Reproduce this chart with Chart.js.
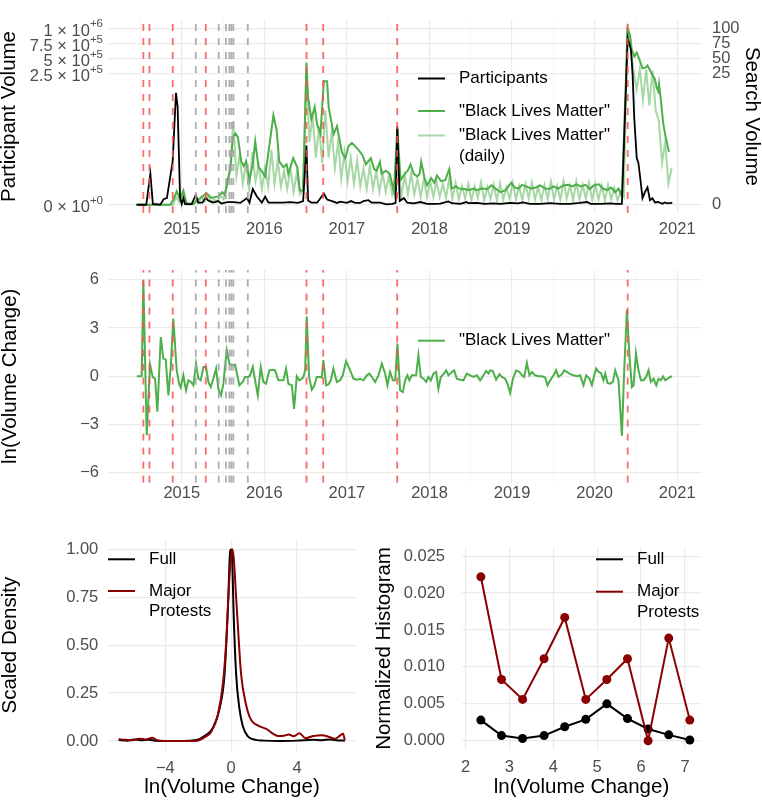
<!DOCTYPE html>
<html>
<head>
<meta charset="UTF-8">
<title>Black Lives Matter: participants and search volume</title>
<script src="https://cdn.jsdelivr.net/npm/chart.js"></script>
<style>
  body { margin: 0; background: #fff; width: 762px; height: 803px; position: relative; overflow: hidden; }
  canvas { position: absolute; }
</style>
</head>
<body>
<canvas id="topChart" width="762" height="245" style="left:0px;top:0px"></canvas>
<canvas id="midChart" width="762" height="265" style="left:0px;top:245px"></canvas>
<canvas id="densChart" width="370" height="283" style="left:0px;top:520px"></canvas>
<canvas id="histChart" width="392" height="283" style="left:370px;top:520px"></canvas>
<script>
// ---- data ----
const yearGrid = [2014.5, 2015, 2015.5, 2016, 2016.5, 2017, 2017.5, 2018, 2018.5, 2019, 2019.5, 2020, 2020.5, 2021];
const partTicks = [0, 250000, 500000, 750000, 1000000];
const partTickLabels = [['0', '+0'], ['2.5', '+5'], ['5', '+5'], ['7.5', '+5'], ['1', '+6']];
const searchTicks = [0, 25, 50, 75, 100];
const changeTicks = [-6, -3, 0, 3, 6];
const densXTicks = [-4, 0, 4];
const densYTicks = [0, 0.25, 0.5, 0.75, 1];
const histXTicks = [2, 3, 4, 5, 6, 7];
const histYTicks = [0, 0.005, 0.01, 0.015, 0.02, 0.025];

// dashed event lines
const majorProtests = [2014.535, 2014.609, 2014.891, 2015.291, 2016.511, 2016.713, 2017.609, 2020.40];
const otherEvents = [2015.17, 2015.448, 2015.535, 2015.577, 2015.601, 2015.625, 2015.80];

// participants (black)
const partYears = [2014.45, 2014.57, 2014.62, 2014.65, 2014.74, 2014.78, 2014.82, 2014.89, 2014.93, 2014.95, 2014.98,
  2015.00, 2015.02, 2015.04, 2015.12, 2015.17, 2015.20, 2015.25, 2015.29, 2015.32, 2015.38, 2015.44, 2015.48, 2015.55,
  2015.63, 2015.71, 2015.79, 2015.82, 2015.86, 2015.91, 2015.97, 2016.01, 2016.05, 2016.15, 2016.23, 2016.31, 2016.41,
  2016.47, 2016.51, 2016.53, 2016.57, 2016.64, 2016.72, 2016.76, 2016.82, 2016.88, 2016.92, 2017.00, 2017.05, 2017.10,
  2017.16, 2017.20, 2017.26, 2017.30, 2017.40, 2017.48, 2017.55, 2017.59, 2017.61, 2017.64, 2017.69, 2017.73, 2017.81,
  2017.89, 2017.97, 2018.05, 2018.13, 2018.23, 2018.27, 2018.37, 2018.45, 2018.47, 2018.57, 2018.67, 2018.77, 2018.86,
  2018.98, 2019.07, 2019.13, 2019.22, 2019.34, 2019.46, 2019.58, 2019.70, 2019.82, 2019.91, 2019.95, 2020.07, 2020.19,
  2020.26, 2020.33, 2020.40, 2020.44, 2020.46, 2020.48, 2020.51, 2020.53, 2020.55, 2020.58, 2020.61, 2020.64, 2020.67,
  2020.70, 2020.73, 2020.77, 2020.82, 2020.85, 2020.88, 2020.94];
const partValues = [0, 0, 59400, 1700, 0, 10500, 12800, 82700, 213800, 187600, 12800,
  1200, 12800, 1200, 1200, 18700, 4000, 4000, 14000, 8200, 4000, 7000, 2300, 5200,
  5200, 3500, 12800, 4000, 30200, 15700, 4000, 15700, 4000, 4000, 4000, 5200, 3500,
  7000, 113100, 8200, 4000, 4000, 21500, 10000, 7000, 3500, 5800, 3500, 7000, 3500,
  3500, 7000, 8700, 4000, 4000, 900, 1700, 3500, 149800, 7000, 12800, 4000, 2600,
  5200, 1700, 1700, 2300, 6500, 3000, 1700, 5200, 3000, 3500, 1700, 2600, 1700,
  3500, 2600, 4400, 1700, 1700, 3000, 1700, 1700, 3500, 5200, 1700, 1700, 2600,
  1700, 1700, 841000, 644000, 248000, 164000, 89000, 80000, 54000, 12800, 24500, 33200, 8700,
  12200, 4400, 5200, 1700, 4400, 2600, 3500];

// "Black Lives Matter" search volume (dark green)
const blmYears = [2014.47, 2014.86, 2014.90, 2014.94, 2014.98, 2015.02, 2015.06, 2015.14, 2015.20, 2015.26, 2015.30,
  2015.36, 2015.44, 2015.49, 2015.52, 2015.59, 2015.62, 2015.65, 2015.68, 2015.72, 2015.75, 2015.78, 2015.82, 2015.86,
  2015.89, 2015.93, 2015.96, 2016.01, 2016.05, 2016.11, 2016.15, 2016.18, 2016.23, 2016.27, 2016.29, 2016.32, 2016.35,
  2016.40, 2016.43, 2016.47, 2016.51, 2016.53, 2016.57, 2016.61, 2016.64, 2016.68, 2016.72, 2016.76, 2016.78, 2016.84,
  2016.88, 2016.94, 2016.98, 2017.02, 2017.06, 2017.10, 2017.15, 2017.19, 2017.23, 2017.29, 2017.33, 2017.36, 2017.40,
  2017.42, 2017.47, 2017.52, 2017.57, 2017.61, 2017.65, 2017.70, 2017.74, 2017.77, 2017.81, 2017.85, 2017.88, 2017.90,
  2017.94, 2017.97, 2018.02, 2018.06, 2018.09, 2018.14, 2018.19, 2018.24, 2018.27, 2018.32, 2018.36, 2018.42, 2018.48,
  2018.53, 2018.58, 2018.63, 2018.70, 2018.75, 2018.80, 2018.86, 2018.92, 2018.99, 2019.03, 2019.08, 2019.12, 2019.17,
  2019.23, 2019.29, 2019.34, 2019.40, 2019.45, 2019.50, 2019.56, 2019.62, 2019.68, 2019.73, 2019.78, 2019.83, 2019.89,
  2019.94, 2019.99, 2020.05, 2020.10, 2020.15, 2020.20, 2020.25, 2020.29, 2020.33, 2020.40, 2020.43, 2020.45, 2020.48,
  2020.51, 2020.54, 2020.58, 2020.62, 2020.64, 2020.67, 2020.70, 2020.73, 2020.75, 2020.77, 2020.78, 2020.80, 2020.83,
  2020.86, 2020.90];
const blmValues = [0, 0, 1.0, 2.6, 1.0, 2.7, 0.1, 0.1, 1.0, 1.7, 2.2,
  1.3, 1.6, 2.4, 1.9, 7.1, 12.9, 13.6, 12.9, 8.3, 7.4, 8.3, 4.8, 7.7,
  12.1, 7.2, 6.6, 5.4, 10.0, 17.1, 14.2, 8.3, 7.2, 7.7, 5.9, 7.4, 8.9,
  7.1, 2.7, 2.7, 43.2, 20.5, 16.4, 18.7, 15.3, 13.5, 23.6, 23.6, 18.5, 13.5,
  15.0, 10.0, 8.9, 11.2, 11.8, 11.2, 10.3, 9.4, 7.7, 8.9, 6.8, 6.5, 8.2,
  5.9, 6.5, 5.9, 2.4, 14.7, 4.7, 5.9, 6.6, 7.7, 5.9, 5.4, 5.9, 8.2,
  5.1, 3.7, 5.1, 4.2, 5.6, 4.5, 4.7, 6.8, 3.1, 3.5, 3.1, 3.0, 2.8,
  3.1, 2.8, 3.1, 3.0, 3.7, 3.1, 2.4, 2.8, 4.2, 3.3, 3.1, 3.8, 3.5,
  3.1, 3.3, 3.7, 3.1, 3.0, 3.5, 3.1, 3.7, 3.8, 3.5, 3.9, 3.5, 3.8,
  3.0, 3.7, 3.9, 3.1, 2.8, 3.3, 2.4, 3.1, 1.6, 100, 87, 64.4, 53.8,
  59.8, 49.2, 34.1, 35.6, 38.6, 31.1, 24.8, 24.0, 22.4, 21.7, 23.1, 20.3, 15.6,
  12.9, 10.1];

// "Black Lives Matter" daily search volume (pale green), one value every 1/26 year
const dailyStart = 2014.47;
const dailyStep = 1 / 26;
const dailyValues = [0, 0, 0, 0, 0, 0, 0, 0, 0, 0, 0, 0,
  1.5, 0.5, 2.0, 0.5, 0.3, 0.2, 0.8, 0.3, 1.5, 0.6, 1.8, 0.5, 1.0, 0.6, 1.8, 1.0,
  3.5, 6.5, 16, 5.5, 9.5, 4, 8, 3, 10, 4.5, 7.5, 3, 7, 3.5, 10.5, 4, 8.5, 3.5, 6.5, 3, 7, 2.5, 6, 2, 3,
  30, 12, 17, 9, 15, 8, 18, 9, 14, 7, 12, 5, 10, 4.5, 9, 4, 8.5, 3.5, 7, 3, 7.5, 3, 6.5, 2.5, 6, 2.5,
  5.5, 2, 5, 6, 2, 5.5, 2, 6, 2, 5, 1.5, 5, 1.5, 4.5, 1.5, 4.5, 1.5, 4, 1.3, 5, 1.2,
  4.2, 1, 3.6, 1.2, 4, 0.9, 3.5, 1.3, 4.3, 0.8, 3.4, 1.1, 3.8, 0.8, 4.1, 1, 3.3, 1.2,
  4.2, 1, 3.5, 0.9, 3.9, 1.2, 4.3, 1, 3.4, 0.9, 3.8, 1.1, 4.4, 1, 3.6, 0.9, 4.5, 1.2,
  3.7, 0.9, 4.4, 1, 3.8, 1.2, 4.2, 0.9, 3.9, 1, 3.6, 0.8, 3.8, 1, 3.2, 0.8, 2.5, 1.5,
  100, 70, 30, 22, 33, 20, 32, 19, 30, 18, 16, 8, 12, 4, 7];

// ln(volume change) of "Black Lives Matter"
const changeYears = [2014.455, 2014.515, 2014.535, 2014.576, 2014.616, 2014.649, 2014.677, 2014.705, 2014.746, 2014.777,
  2014.806, 2014.838, 2014.867, 2014.898, 2014.939, 2014.971, 2014.988, 2015.019, 2015.052, 2015.080, 2015.113, 2015.141,
  2015.173, 2015.201, 2015.230, 2015.262, 2015.294, 2015.322, 2015.351, 2015.383, 2015.416, 2015.443, 2015.476, 2015.504,
  2015.545, 2015.577, 2015.606, 2015.646, 2015.698, 2015.739, 2015.767, 2015.807, 2015.827, 2015.860, 2015.921, 2015.957,
  2015.988, 2016.021, 2016.061, 2016.102, 2016.130, 2016.170, 2016.231, 2016.263, 2016.291, 2016.333, 2016.360, 2016.393,
  2016.425, 2016.454, 2016.473, 2016.494, 2016.514, 2016.542, 2016.575, 2016.606, 2016.635, 2016.675, 2016.696, 2016.715,
  2016.748, 2016.776, 2016.805, 2016.837, 2016.878, 2016.918, 2016.950, 2016.990, 2017.039, 2017.079, 2017.120, 2017.160,
  2017.200, 2017.241, 2017.273, 2017.302, 2017.342, 2017.382, 2017.423, 2017.463, 2017.491, 2017.523, 2017.556, 2017.584,
  2017.612, 2017.644, 2017.677, 2017.705, 2017.733, 2017.757, 2017.786, 2017.838, 2017.866, 2017.895, 2017.927, 2017.960,
  2017.987, 2018.016, 2018.048, 2018.081, 2018.108, 2018.137, 2018.169, 2018.202, 2018.230, 2018.271, 2018.299, 2018.331,
  2018.371, 2018.411, 2018.452, 2018.492, 2018.532, 2018.574, 2018.614, 2018.654, 2018.686, 2018.714, 2018.735, 2018.767,
  2018.807, 2018.847, 2018.876, 2018.916, 2018.944, 2018.977, 2019.010, 2019.050, 2019.090, 2019.119, 2019.147, 2019.179,
  2019.211, 2019.240, 2019.280, 2019.320, 2019.361, 2019.401, 2019.429, 2019.462, 2019.502, 2019.534, 2019.562, 2019.603,
  2019.631, 2019.664, 2019.704, 2019.744, 2019.785, 2019.825, 2019.865, 2019.898, 2019.938, 2019.967, 2019.995, 2020.019,
  2020.047, 2020.076, 2020.107, 2020.128, 2020.156, 2020.188, 2020.221, 2020.249, 2020.289, 2020.330, 2020.358, 2020.391,
  2020.422, 2020.451, 2020.471, 2020.500, 2020.531, 2020.560, 2020.592, 2020.624, 2020.652, 2020.681, 2020.713, 2020.746,
  2020.774, 2020.803, 2020.827, 2020.855, 2020.883, 2020.915, 2020.936];
const changeValues = [0, 0, 5.96, -3.66, 0.74, -0.05, -0.15, -2.2, 2.44, 1.1,
  1.03, -1.18, 0.6, 3.58, 0.37, -0.5, -0.7, 0.06, -0.87, -0.25, -0.35, -0.56,
  0.79, -0.14, -0.25, 0.58, 0.58, -0.35, -0.67, -0.14, 0.48, -0.77, -1.18, -0.46,
  1.62, 0.79, 0.68, 0.72, -0.56, -0.35, -0.04, -0.04, 0.06, 0.58, -1.18, 0.58,
  -0.35, -0.46, 0.37, 0.41, 0.37, -0.25, -0.25, 0.48, -0.46, -0.56, -2.02, 0,
  -0.25, -0.15, -0.04, 0.37, 3.71, -0.04, -0.83, -0.56, -0.04, -0.04, -0.08, 1.0,
  -0.56, -0.5, -0.25, 0.48, -0.35, -0.25, 0.06, 0.94, 0.37, -0.15, -0.21, -0.15,
  -0.25, 0.06, 0.17, -0.04, -0.35, 0.06, 0.79, 0.17, -0.56, 0.27, -0.25, -0.25,
  2.04, -0.87, -0.98, -0.25, 0.06, -0.25, 0.06, 0.06, 1.31, -0.04, -0.15, -0.35,
  -0.04, -0.25, 0.17, 0.27, -0.77, -0.04, 0.13, 0.37, 0.06, 0.27, 0.37, -0.15,
  -0.21, -0.25, 0.17, 0.06, -0.04, 0.06, -0.25, 0.06, 0.33, 0.17, 0.37, 0.33,
  -0.21, 0.13, -0.04, -0.15, -0.46, -1.04, -0.15, 0.37, 0.27, 0.06, -0.04, 0.83,
  0.06, 0.27, 0.06, 0, 0, -0.08, -0.56, -0.25, 0.06, 0.37, -0.04, 0.13,
  0.37, 0.27, 0.13, 0.06, 0, 0.06, -0.56, 0.06, -0.15, -0.56, 0.06, 0.48,
  0.27, 0.21, -0.25, 0.17, -0.42, -0.46, -0.35, 0.37, -0.25, -3.69, 0.37, 4.12,
  1.21, -0.67, -0.56, 1.42, 0.37, -0.25, -0.25, -0.04, 0.37, -0.35, -0.15, -0.56,
  -0.15, -0.25, 0, -0.25, -0.15, -0.04, 0];

// scaled density of ln(volume change)
const fullDensX = [-6.83, -6.3, -5.9, -5.5, -5.0, -4.6, -4.0, -3.0, -2.5, -2.1, -1.6, -1.1, -0.7, -0.4, -0.2, -0.06,
  0, 0.07, 0.14, 0.3, 0.5, 0.7, 1.0, 1.5, 2.0, 3.0, 4.0, 5.0, 5.5, 6.0, 6.5, 6.9];
const fullDensY = [0.005, 0.002, 0.008, 0.004, 0.006, 0.001, 0, 0, 0.002, 0.005, 0.027, 0.07, 0.17, 0.35, 0.69, 0.99,
  1.0, 0.93, 0.69, 0.35, 0.17, 0.08, 0.026, 0.006, 0.002, 0, 0.002, 0.006, 0.004, 0.008, 0.003, 0.002];
const majorDensX = [-6.83, -6.5, -6.0, -5.6, -5.2, -4.8, -4.5, -4.0, -2.5, -2.0, -1.6, -1.2, -0.8, -0.5, -0.3, -0.1,
  0.06, 0.15, 0.3, 0.4, 0.6, 0.9, 1.1, 1.3, 1.7, 2.2, 2.5, 2.85, 3.2, 3.5, 3.8, 4.15, 4.5, 5.0, 5.5, 6.0, 6.3, 6.6, 6.8, 6.9];
const majorDensY = [0.01, 0.006, 0.004, 0.012, 0.008, 0.017, 0.004, 0, 0, 0.003, 0.02, 0.05, 0.14, 0.3, 0.52, 0.86,
  1.0, 0.96, 0.75, 0.61, 0.35, 0.19, 0.13, 0.10, 0.078, 0.06, 0.04, 0.026, 0.028, 0.034, 0.025, 0.04, 0.015, 0.026, 0.03, 0.02, 0.012, 0.028, 0.038, 0.004];

// normalized histogram
const histBins = [2.35, 2.82, 3.30, 3.79, 4.26, 4.74, 5.22, 5.69, 6.16, 6.63, 7.11];
const histFull = [0.0028, 0.0007, 0.0003, 0.0007, 0.0019, 0.0029, 0.0050, 0.0030, 0.0016, 0.0008, 0.0001];
const histMajor = [0.0222, 0.0083, 0.0056, 0.0111, 0.0167, 0.0056, 0.0083, 0.0111, 0.0, 0.0139, 0.0028];

// ---- styling ----
const FONT = "'Liberation Sans', Arial, Helvetica, sans-serif";
const GREEN = '#4DAF4A';
const PALE = 'rgba(77,175,74,0.5)';
const DARKRED = '#8B0000';
const MAJOR = '#ebebeb';
const MINOR = '#f3f3f3';
const TICK = '#4d4d4d';

Chart.defaults.font.family = FONT;
Chart.defaults.font.size = 16.5;
Chart.defaults.color = TICK;
Chart.defaults.animation = false;
Chart.defaults.responsive = false;
Chart.defaults.plugins.legend.display = false;
Chart.defaults.plugins.tooltip.enabled = false;
Chart.defaults.elements.point.radius = 0;

// linear axis with a break: two linear pieces joined at breakAt
class BrokenScale extends Chart.LinearScale {
  getPixelForValue(value) {
    const b = this.options.breakAt, f = this.options.breakFrac;
    const d = value <= b
      ? (value - this.min) / (b - this.min) * f
      : f + (value - b) / (this.max - b) * (1 - f);
    return this.getPixelForDecimal(d);
  }
  getValueForPixel(pixel) {
    const b = this.options.breakAt, f = this.options.breakFrac;
    const d = this.getDecimalForPixel(pixel);
    return d <= f ? this.min + d / f * (b - this.min) : b + (d - f) / (1 - f) * (this.max - b);
  }
}
BrokenScale.id = 'broken';
BrokenScale.defaults = {};
Chart.register(BrokenScale);

const pts = (xs, ys) => xs.map((x, i) => ({ x: x, y: ys[i] }));
const setTicks = list => s => { s.ticks = list.map(v => ({ value: v })); };
const minus = v => v < 0 ? '\u2212' + (-v) : String(v);
const title = (text, pad) => ({ display: true, text: text, color: '#000', font: { size: 20.5 }, padding: pad });

const yearAxis = (pad, h) => ({
  type: 'linear', min: 2014.107, max: 2021.3,
  afterBuildTicks: setTicks(yearGrid),
  ticks: { autoSkip: false, maxRotation: 0, padding: pad, callback: v => Number.isInteger(v) ? String(v) : '' },
  grid: { drawTicks: false, color: c => (c.tick && c.tick.value % 1) ? MINOR : MAJOR, lineWidth: c => (c.tick && c.tick.value % 1) ? 0.8 : 1.2 },
  border: { display: false },
  afterFit: s => { s.height = h; }
});

const eventLines = {
  id: 'eventLines',
  afterDatasetsDraw(chart) {
    const { ctx, chartArea: a, scales: { x } } = chart;
    ctx.save();
    ctx.lineWidth = 1.8;
    ctx.setLineDash([7, 7]);
    const draw = (list, color) => {
      ctx.strokeStyle = color;
      list.forEach(v => {
        const px = x.getPixelForValue(v);
        ctx.beginPath(); ctx.moveTo(px, a.bottom); ctx.lineTo(px, a.top); ctx.stroke();
      });
    };
    draw(otherEvents, 'rgba(165,165,165,0.9)');
    draw(majorProtests, 'rgba(255,80,80,0.85)');
    ctx.restore();
  }
};

function keys(items) {
  return {
    id: 'keys',
    afterDraw(chart) {
      const ctx = chart.ctx;
      ctx.save();
      items.forEach(it => {
        ctx.strokeStyle = it.color; ctx.lineWidth = 2; ctx.setLineDash([]);
        ctx.beginPath(); ctx.moveTo(it.x0, it.y); ctx.lineTo(it.x0 + 27, it.y); ctx.stroke();
        ctx.fillStyle = '#000'; ctx.font = '17px ' + FONT; ctx.textBaseline = 'middle'; ctx.textAlign = 'left';
        it.text.forEach((t, i) => ctx.fillText(t, it.x0 + 41, it.y + i * 20.5));
      });
      ctx.restore();
    }
  };
}

const sciLabels = {
  id: 'sciLabels',
  afterDraw(chart) {
    const { ctx } = chart; const s = chart.scales.y;
    ctx.save(); ctx.fillStyle = TICK; ctx.textBaseline = 'middle'; ctx.textAlign = 'right';
    partTicks.forEach((v, i) => {
      const py = s.getPixelForValue(v);
      const [m, e] = partTickLabels[i];
      ctx.font = '11.5px ' + FONT;
      const ew = ctx.measureText(e).width;
      ctx.fillText(e, 103, py - 4);
      ctx.font = '16.5px ' + FONT;
      ctx.fillText(m + ' \u00d7 10', 103 - ew, py + 3);
    });
    ctx.restore();
  }
};

// ---- top: participants and search volume ----
new Chart(document.getElementById('topChart'), {
  type: 'line',
  data: { datasets: [
    { label: 'Participants', data: pts(partYears, partValues), yAxisID: 'y', borderColor: '#000', borderWidth: 1.8 },
    { label: '"Black Lives Matter"', data: pts(blmYears, blmValues), yAxisID: 'y2', borderColor: GREEN, borderWidth: 2 },
    { label: '"Black Lives Matter" (daily)', data: dailyValues.map((v, i) => ({ x: dailyStart + i * dailyStep, y: v })), yAxisID: 'y2', borderColor: PALE, borderWidth: 2 }
  ] },
  options: {
    layout: { padding: { top: 2 } },
    scales: {
      x: yearAxis(6.6, 32),
      y: {
        type: 'broken', position: 'left', min: -15750, max: 1135000, breakAt: 250000, breakFrac: 0.7204,
        afterBuildTicks: setTicks(partTicks),
        ticks: { callback: () => '' },
        grid: { drawTicks: false, color: MAJOR, lineWidth: 1.2 },
        border: { display: false },
        title: title('Participant Volume', { top: -2.5, bottom: 0 }),
        afterFit: s => { s.width = 108; }
      },
      y2: {
        type: 'broken', position: 'right', min: -1.575, max: 113.5, breakAt: 25, breakFrac: 0.7204,
        afterBuildTicks: setTicks(searchTicks),
        ticks: { padding: 10, callback: v => String(v) },
        grid: { display: false, drawTicks: false },
        border: { display: false },
        title: title('Search Volume', { top: -1.5, bottom: 0 }),
        afterFit: s => { s.width = 60; }
      }
    }
  },
  plugins: [eventLines, sciLabels, keys([
    { color: '#000', x0: 418, y: 78.5, text: ['Participants'] },
    { color: GREEN, x0: 418, y: 111, text: ['"Black Lives Matter"'] },
    { color: PALE, x0: 418, y: 135.5, text: ['"Black Lives Matter"', '(daily)'] }
  ])]
});

// ---- middle: ln(volume change) ----
new Chart(document.getElementById('midChart'), {
  type: 'line',
  data: { datasets: [
    { label: '"Black Lives Matter"', data: pts(changeYears, changeValues), borderColor: GREEN, borderWidth: 2 }
  ] },
  options: {
    layout: { padding: { top: 25, right: 60 } },
    scales: {
      x: yearAxis(0.5, 27.4),
      y: {
        type: 'linear', min: -6.6, max: 6.6,
        afterBuildTicks: setTicks(changeTicks),
        ticks: { padding: 9, callback: minus },
        grid: { drawTicks: false, color: MAJOR, lineWidth: 1.2 },
        border: { display: false },
        title: title('ln(Volume Change)', { top: -2, bottom: 0 }),
        afterFit: s => { s.width = 108; }
      }
    }
  },
  plugins: [eventLines, keys([{ color: GREEN, x0: 418, y: 95.7, text: ['"Black Lives Matter"'] }])]
});

// ---- bottom left: scaled density ----
new Chart(document.getElementById('densChart'), {
  type: 'line',
  data: { datasets: [
    { label: 'Major Protests', data: pts(majorDensX, majorDensY), borderColor: DARKRED, borderWidth: 2, cubicInterpolationMode: 'monotone' },
    { label: 'Full', data: pts(fullDensX, fullDensY), borderColor: '#000', borderWidth: 2, cubicInterpolationMode: 'monotone' }
  ] },
  options: {
    layout: { padding: { top: 18.4, right: 14 } },
    scales: {
      x: {
        type: 'linear', min: -7.48, max: 7.58,
        afterBuildTicks: setTicks(densXTicks),
        ticks: { padding: 7.5, autoSkip: false, maxRotation: 0, callback: minus },
        grid: { drawTicks: false, color: MAJOR, lineWidth: 1.2 },
        border: { display: false },
        title: title('ln(Volume Change)', { top: 0, bottom: 3.4 }),
        afterFit: s => { s.height = 52.4; }
      },
      y: {
        type: 'linear', min: -0.05, max: 1.05,
        afterBuildTicks: setTicks(densYTicks),
        ticks: { padding: 9.7, callback: v => v.toFixed(2) },
        grid: { drawTicks: false, color: MAJOR, lineWidth: 1.2 },
        border: { display: false },
        title: title('Scaled Density', { top: -2, bottom: 0 }),
        afterFit: s => { s.width = 108; }
      }
    }
  },
  plugins: [keys([
    { color: '#000', x0: 108, y: 39.3, text: ['Full'] },
    { color: DARKRED, x0: 108, y: 71, text: ['Major', 'Protests'] }
  ])]
});

// ---- bottom right: normalized histogram ----
new Chart(document.getElementById('histChart'), {
  type: 'line',
  data: { datasets: [
    { label: 'Major Protests', data: pts(histBins, histMajor), borderColor: DARKRED, backgroundColor: DARKRED, borderWidth: 2, pointRadius: 4.5, pointBorderWidth: 0 },
    { label: 'Full', data: pts(histBins, histFull), borderColor: '#000', backgroundColor: '#000', borderWidth: 2, pointRadius: 4.5, pointBorderWidth: 0 }
  ] },
  options: {
    layout: { padding: { top: 18, right: 61 } },
    scales: {
      x: {
        type: 'linear', min: 1.92, max: 7.365,
        afterBuildTicks: setTicks(histXTicks),
        ticks: { padding: 7.5, autoSkip: false, maxRotation: 0, callback: v => String(v) },
        grid: { drawTicks: false, color: MAJOR, lineWidth: 1.2 },
        border: { display: false },
        title: title('ln(Volume Change)', { top: 0, bottom: 3.4 }),
        afterFit: s => { s.height = 53; }
      },
      y: {
        type: 'linear', min: -0.00125, max: 0.02625,
        afterBuildTicks: setTicks(histYTicks),
        ticks: { padding: 17, callback: v => v.toFixed(3) },
        grid: { drawTicks: false, color: MAJOR, lineWidth: 1.2 },
        border: { display: false },
        title: title('Normalized Histogram', { top: 2.4, bottom: 0 }),
        afterFit: s => { s.width = 92; }
      }
    }
  },
  plugins: [keys([
    { color: '#000', x0: 226, y: 39.3, text: ['Full'] },
    { color: DARKRED, x0: 226, y: 71.7, text: ['Major', 'Protests'] }
  ])]
});
</script>
</body>
</html>
